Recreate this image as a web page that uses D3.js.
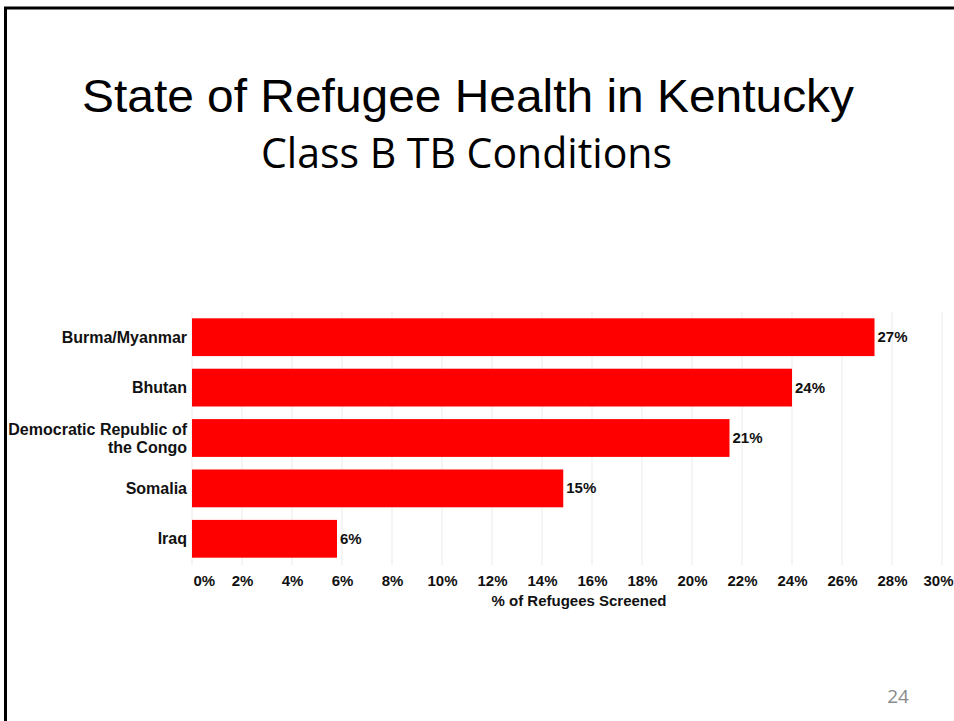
<!DOCTYPE html>
<html>
<head>
<meta charset="utf-8">
<script src="https://cdn.jsdelivr.net/npm/d3@7"></script>
<style>
  html, body { margin: 0; padding: 0; background: #fff; }
  svg { display: block; }
</style>
</head>
<body>
<svg id="chart" width="954" height="721"></svg>
<script>
const categories = ["Burma/Myanmar", "Bhutan", "Democratic Republic of the Congo", "Somalia", "Iraq"];
const values = [27.3, 24.0, 21.5, 14.85, 5.8];
const valueLabels = ["27%", "24%", "21%", "15%", "6%"];
const tickValues = [0, 2, 4, 6, 8, 10, 12, 14, 16, 18, 20, 22, 24, 26, 28, 30];
const titleText = "State of Refugee Health in Kentucky";
const subtitleText = "Class B TB Conditions";
const axisTitle = "% of Refugees Screened";
const pageNumber = "24";

const svg = d3.select("#chart");
const W = 954, H = 721;
svg.append("rect").attr("width", W).attr("height", H).attr("fill", "#fff");

// slide border
svg.append("line").attr("x1", 4).attr("x2", W).attr("y1", 8).attr("y2", 8)
  .attr("stroke", "#000").attr("stroke-width", 3);
svg.append("line").attr("x1", 5.5).attr("x2", 5.5).attr("y1", 7).attr("y2", H)
  .attr("stroke", "#000").attr("stroke-width", 3);

// titles
const t = svg.append("text").attr("x", 82).attr("y", 112)
  .attr("font-family", "Liberation Sans, Arial, sans-serif").attr("font-size", 46)
  .attr("fill", "#000").text(titleText);
t.attr("textLength", 772).attr("lengthAdjust", "spacingAndGlyphs");

const st = svg.append("text").attr("x", 261).attr("y", 168)
  .attr("font-family", "Open Sans, Noto Sans, sans-serif").attr("font-size", 42)
  .attr("fill", "#000").text(subtitleText);
st.attr("textLength", 411).attr("lengthAdjust", "spacingAndGlyphs");

// scales
const x = d3.scaleLinear().domain([0, 30]).range([192, 942]);
const y = d3.scaleBand().domain(categories).range([312, 564])
  .paddingInner(0.25).paddingOuter(0.125);

// grid
svg.append("g").selectAll("line").data(tickValues).join("line")
  .attr("x1", d => x(d)).attr("x2", d => x(d))
  .attr("y1", 312).attr("y2", 565)
  .attr("stroke", "#ebebeb").attr("stroke-width", 1);

// bars
svg.append("g").selectAll("rect").data(categories).join("rect")
  .attr("x", x(0)).attr("y", d => y(d))
  .attr("width", (d, i) => x(values[i]) - x(0))
  .attr("height", y.bandwidth())
  .attr("fill", "#ff0000");

// value labels
svg.append("g").selectAll("text").data(categories).join("text")
  .attr("x", (d, i) => x(values[i]) + 3)
  .attr("y", d => y(d) + y.bandwidth() / 2 + 5)
  .attr("font-family", "Liberation Sans, Arial, sans-serif")
  .attr("font-weight", "bold").attr("font-size", 15).attr("fill", "#111")
  .text((d, i) => valueLabels[i]);

// category labels
const catG = svg.append("g");
categories.forEach(c => {
  const cy = y(c) + y.bandwidth() / 2;
  const lines = c === "Democratic Republic of the Congo"
    ? ["Democratic Republic of", "the Congo"] : [c];
  const txt = catG.append("text")
    .attr("x", 187).attr("text-anchor", "end")
    .attr("font-family", "Liberation Sans, Arial, sans-serif")
    .attr("font-weight", "bold").attr("font-size", 16).attr("fill", "#111");
  const lh = 18;
  const startY = cy + 5.5 - (lines.length - 1) * lh / 2;
  lines.forEach((l, i) => {
    txt.append("tspan").attr("x", 187).attr("y", startY + i * lh).text(l);
  });
});

// x axis
const axis = d3.axisBottom(x).tickValues(tickValues)
  .tickFormat(d => d + "%").tickSize(0).tickPadding(0);
const ax = svg.append("g").attr("transform", "translate(0,572)").call(axis);
ax.select(".domain").remove();
ax.selectAll("text")
  .attr("dy", "0.9em")
  .attr("font-family", "Liberation Sans, Arial, sans-serif")
  .attr("font-weight", "bold").attr("font-size", 15).attr("fill", "#111");
ax.selectAll(".tick").filter(d => d === 0).select("text")
  .attr("text-anchor", "start").attr("x", 1);
ax.selectAll(".tick").filter(d => d === 30).select("text")
  .attr("text-anchor", "end").attr("x", W - 1 - x(30));

// axis title
svg.append("text").attr("x", 579).attr("y", 606).attr("text-anchor", "middle")
  .attr("font-family", "Liberation Sans, Arial, sans-serif")
  .attr("font-weight", "bold").attr("font-size", 15).attr("fill", "#111")
  .text(axisTitle);

// page number
svg.append("text").attr("x", 898).attr("y", 703).attr("text-anchor", "middle")
  .attr("font-family", "Open Sans, Noto Sans, sans-serif")
  .attr("font-size", 19).attr("fill", "#8a8a8a")
  .text(pageNumber);
</script>
</body>
</html>
